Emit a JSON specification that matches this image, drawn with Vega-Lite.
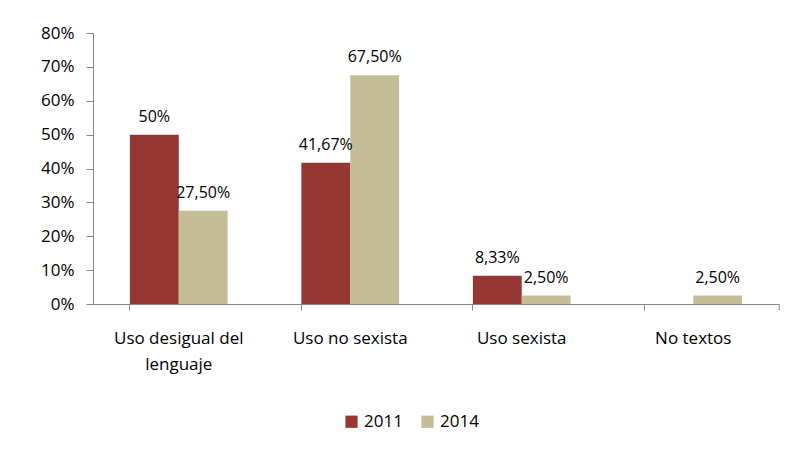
{
  "$schema": "https://vega.github.io/schema/vega-lite/v6.json",
  "width": 686,
  "height": 271,
  "autosize": "none",
  "padding": {"left": 93, "top": 33, "right": 13, "bottom": 148},
  "background": "white",
  "config": {
    "font": "Open Sans",
    "view": {"stroke": null},
    "axis": {"labelFont": "Open Sans", "labelColor": "#000000", "domainColor": "#868686", "tickColor": "#868686"}
  },
  "data": {
    "values": [
      {"categoria": "Uso desigual del lenguaje", "anio": "2011", "valor": 0.5, "etiqueta": "50%"},
      {"categoria": "Uso desigual del lenguaje", "anio": "2014", "valor": 0.275, "etiqueta": "27,50%"},
      {"categoria": "Uso no sexista", "anio": "2011", "valor": 0.4167, "etiqueta": "41,67%"},
      {"categoria": "Uso no sexista", "anio": "2014", "valor": 0.675, "etiqueta": "67,50%"},
      {"categoria": "Uso sexista", "anio": "2011", "valor": 0.0833, "etiqueta": "8,33%"},
      {"categoria": "Uso sexista", "anio": "2014", "valor": 0.025, "etiqueta": "2,50%"},
      {"categoria": "No textos", "anio": "2011", "valor": 0, "etiqueta": ""},
      {"categoria": "No textos", "anio": "2014", "valor": 0.025, "etiqueta": "2,50%"}
    ]
  },
  "encoding": {
    "x": {
      "field": "categoria", "type": "nominal",
      "sort": ["Uso desigual del lenguaje", "Uso no sexista", "Uso sexista", "No textos"],
      "scale": {"paddingInner": 0.43, "paddingOuter": 0.215},
      "axis": {
        "title": null, "labelAngle": 0, "labelFontSize": 17, "labelPadding": 20,
        "bandPosition": 0, "tickSize": 6, "labelLineHeight": 26, "labelBaseline": "top",
        "labelExpr": "datum.value == 'Uso desigual del lenguaje' ? ['Uso desigual del', 'lenguaje'] : datum.value"
      }
    },
    "y": {
      "field": "valor", "type": "quantitative",
      "scale": {"domain": [0, 0.8], "nice": false},
      "axis": {"title": null, "format": ".0%", "tickCount": 8, "grid": false, "labelFontSize": 17, "tickSize": 7, "labelPadding": 12}
    }
  },
  "layer": [
    {
      "mark": {"type": "bar"},
      "encoding": {
        "xOffset": {"field": "anio", "type": "nominal", "sort": ["2011", "2014"]},
        "color": {
          "field": "anio", "type": "nominal",
          "scale": {"domain": ["2011", "2014"], "range": ["#953735", "#C4BD97"]},
          "legend": {
            "title": null, "orient": "none", "legendX": 250, "legendY": 380, "direction": "horizontal",
            "symbolType": "square", "symbolSize": 150, "labelFontSize": 17,
            "labelFont": "Open Sans", "labelColor": "#000000", "columnPadding": 16
          }
        }
      }
    },
    {
      "mark": {"type": "text", "baseline": "bottom", "dy": -10, "fontSize": 16, "color": "#000000"},
      "encoding": {
        "xOffset": {"field": "anio", "type": "nominal", "sort": ["2011", "2014"]},
        "text": {"field": "etiqueta"}
      }
    },
    {
      "data": {"values": [{"categoria": "No textos", "inicio": 0, "fin": -0.018}]},
      "mark": {"type": "rule", "color": "#868686", "clip": false},
      "encoding": {
        "x": {"field": "categoria", "type": "nominal", "bandPosition": 1.38},
        "y": {"field": "inicio", "type": "quantitative"},
        "y2": {"field": "fin"}
      }
    }
  ]
}
